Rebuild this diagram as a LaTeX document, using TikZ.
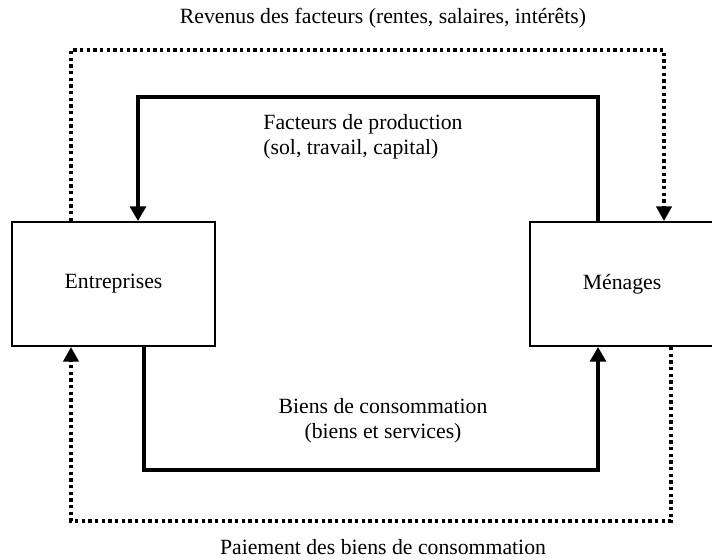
\documentclass[tikz,border=0pt]{standalone}
\usepackage{fontspec}
\setmainfont{Liberation Serif}
\usetikzlibrary{arrows.meta}

\begin{document}
\begin{tikzpicture}[
    x=0.75pt,
    y=-0.75pt,
    font=\fontsize{16.3pt}{19pt}\selectfont,
    agent/.style={draw=black, line width=1.5pt, minimum height=93pt,
                  inner sep=0pt, align=center},
    flow/.style={draw=black, line width=2.5pt,
                 -{Triangle[width=12pt, length=11pt]}},
    money/.style={draw=black, line width=2.4pt,
                  dash pattern=on 2.5pt off 2.5pt,
                  -{Triangle[width=11.5pt, length=11pt]}},
    caption/.style={inner sep=0pt, align=center}
]
\clip (0,0) rectangle (712,559);

% The two agents; the right one runs past the page edge.
\node[agent, minimum width=152.25pt] (ent) at (113.5,284) {Entreprises};
\node[agent, minimum width=138pt] (men) at (622,284) {Ménages};

% Turning points of the four loops.
\coordinate (cTopL) at (138,97);
\coordinate (cTopR) at (598,97);
\coordinate (cDotTL) at (71,50);
\coordinate (cDotTR) at (664,50);
\coordinate (cBotL) at (144,470);
\coordinate (cBotR) at (598,470);
\coordinate (cDotBL) at (71,521);
\coordinate (cDotBR) at (671,521);

% Real flows (solid) and money flows (dotted).
\draw[flow] (men.north -| cTopR) |- (cTopL) -- (ent.north -| cTopL);
\draw[money] (ent.north -| cDotTL) |- (cDotTR) -- (men.north -| cDotTR);
\draw[flow] (ent.south -| cBotL) |- (cBotR) -- (men.south -| cBotR);
\draw[money] (men.south -| cDotBR) |- (cDotBL) -- (ent.south -| cDotBL);

\node[caption] (revenus) at (383,18)
      {Revenus des facteurs (rentes, salaires, intérêts)};
\node[caption, align=left] (facteurs) at (363,137)
      {Facteurs de production\\(sol, travail, capital)};
\node[caption] (biens) at (383,421)
      {Biens de consommation\\(biens et services)};
\node[caption] (paiement) at (383,547)
      {Paiement des biens de consommation};
\end{tikzpicture}
\end{document}
